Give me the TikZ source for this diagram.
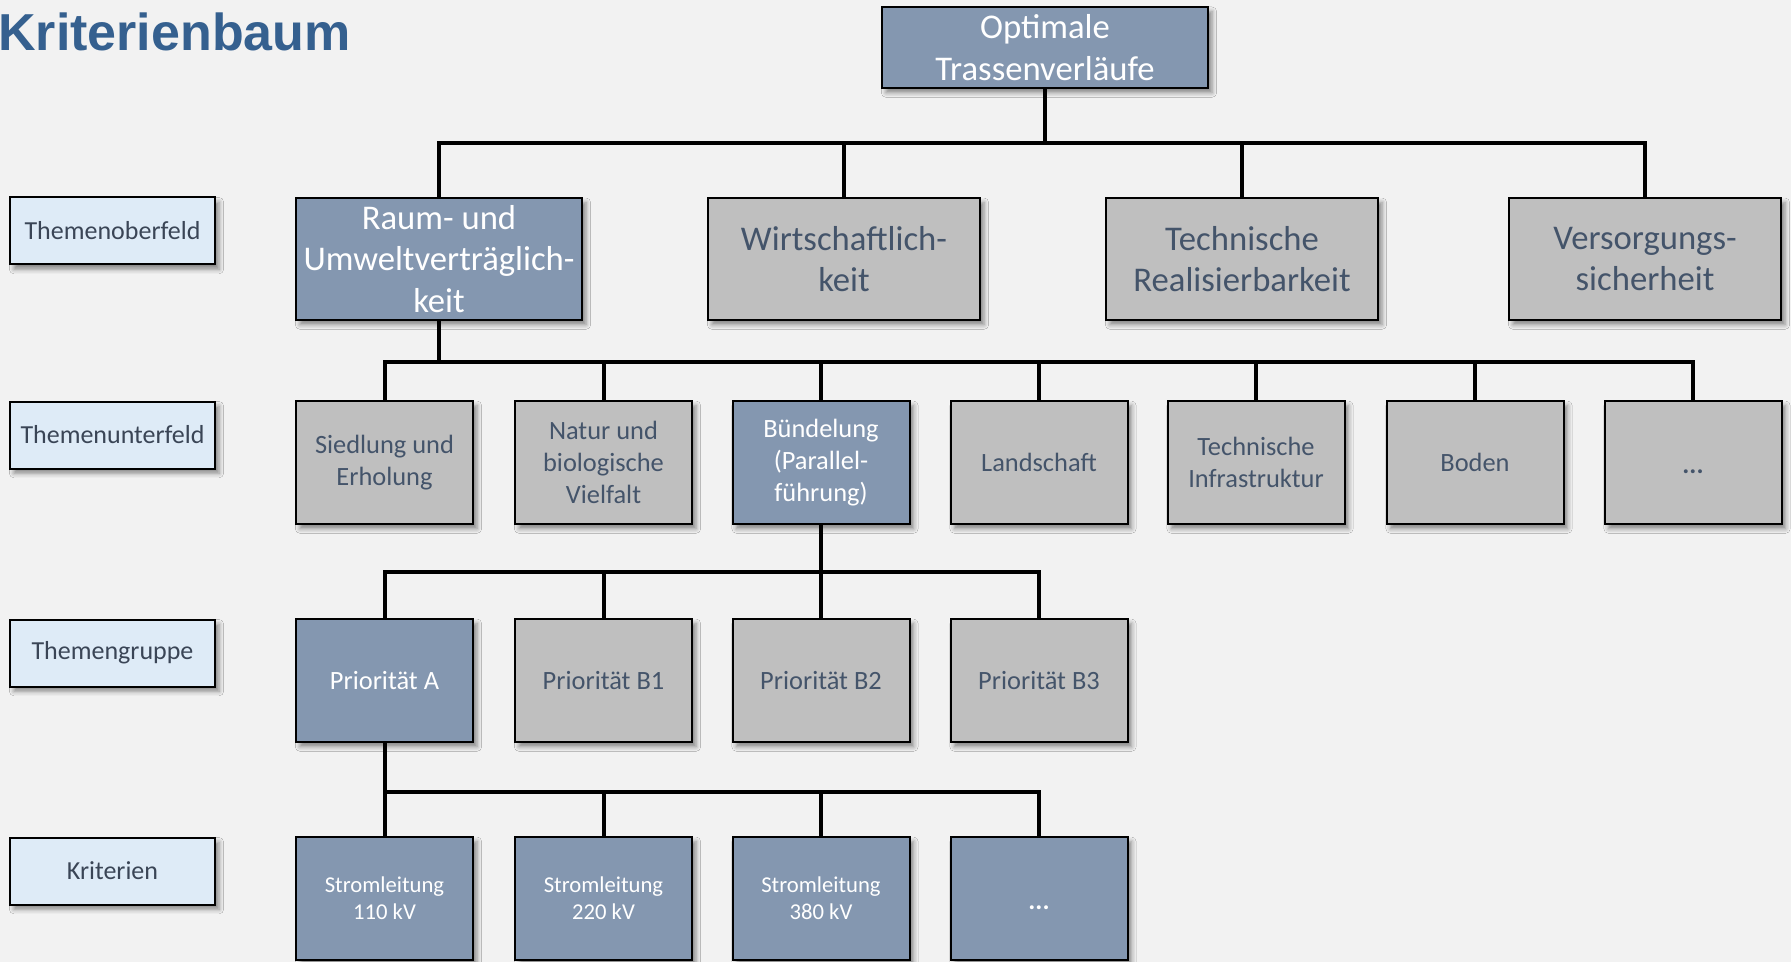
\documentclass[tikz,border=0pt]{standalone}
\usepackage{fontspec}
\setmainfont{Carlito}
\newfontfamily\titlefont{Liberation Sans}
\usetikzlibrary{shadows.blur}
\definecolor{bgc}{HTML}{F2F2F2}
\definecolor{bluefill}{HTML}{8497B0}
\definecolor{grayfill}{HTML}{BFBFBF}
\definecolor{labelfill}{HTML}{DEEBF7}
\definecolor{darktext}{HTML}{44546A}
\definecolor{labeltext}{HTML}{3A4556}
\definecolor{titleblue}{HTML}{35608F}
\newlength\pxu \setlength\pxu{0.75pt}
\newcommand\mydots{\raisebox{-8.5pt}[0pt][0pt]{\textbf{...}}}
\begin{document}
\begin{tikzpicture}[x=0.75pt,y=-0.75pt,
  box/.style={draw=black, line width=1.5pt, inner sep=0pt, align=center,
    blur shadow={shadow xshift=3pt, shadow yshift=-3.5pt, shadow blur radius=3.5pt, shadow opacity=45}},
  bluebox/.style={box, fill=bluefill, text=white},
  graybox/.style={box, fill=grayfill, text=darktext},
  big/.style={minimum width=272\pxu, minimum height=122\pxu, font=\fontsize{26}{31}\selectfont},
  mid/.style={minimum width=177\pxu, minimum height=123\pxu, font=\fontsize{19.8}{24}\selectfont},
  small/.style={minimum width=177\pxu, minimum height=123\pxu, font=\fontsize{17}{20.5}\selectfont},
  lbl/.style={box, fill=labelfill, text=labeltext, minimum width=205\pxu, minimum height=67\pxu, font=\fontsize{19.5}{24}\selectfont},
  conn/.style={draw=black, line width=3pt}]
\path[fill=bgc] (0,0) rectangle (1791,962);
\useasboundingbox (0,0) rectangle (1791,962);

\node[anchor=base west, inner sep=0pt, text=titleblue, font=\titlefont\bfseries\fontsize{39}{45}\selectfont] (title) at (-2,51) {Kriterienbaum};

% labels
\node[lbl] (l1) at (112.5,231) {Themenoberfeld};
\node[lbl] (l2) at (112.5,435) {Themenunterfeld};
\node[lbl] (l3) at (112.5,653) {Themengruppe};
\node[lbl] (l4) at (112.5,871) {Kriterien};

% top
\node[bluebox, minimum width=326\pxu, minimum height=81\pxu, font=\fontsize{26}{31}\selectfont] (top) at (1045,47.5) {Optimale\\Trassenverläufe};

% level 1
\node[bluebox, big, minimum width=286\pxu] (raum) at (439,259) {Raum- und\\Umweltverträglich-\\keit};
\node[graybox, big] (wirt) at (844,259) {Wirtschaftlich-\\keit};
\node[graybox, big] (tech) at (1242,259) {Technische\\Realisierbarkeit};
\node[graybox, big] (vers) at (1645,259) {Versorgungs-\\sicherheit};

% level 2
\node[graybox, mid] (sied) at (384.5,462.5) {Siedlung und\\Erholung};
\node[graybox, mid] (natur) at (603.5,462.5) {Natur und\\biologische\\Vielfalt};
\node[bluebox, mid] (buend) at (821,462.5) {Bündelung\\(Parallel-\\führung)};
\node[graybox, mid] (land) at (1039,462.5) {Landschaft};
\node[graybox, mid] (infra) at (1256,462.5) {Technische\\Infrastruktur};
\node[graybox, mid] (boden) at (1475,462.5) {Boden};
\node[graybox, mid] (more2) at (1693,462.5) {\mydots};

% level 3
\node[bluebox, mid] (pa) at (384.5,680.5) {Priorität A};
\node[graybox, mid] (pb1) at (603.5,680.5) {Priorität B1};
\node[graybox, mid] (pb2) at (821,680.5) {Priorität B2};
\node[graybox, mid] (pb3) at (1039,680.5) {Priorität B3};

% level 4
\node[bluebox, small] (s110) at (384.5,898.5) {Stromleitung\\110 kV};
\node[bluebox, small] (s220) at (603.5,898.5) {Stromleitung\\220 kV};
\node[bluebox, small] (s380) at (821,898.5) {Stromleitung\\380 kV};
\node[bluebox, mid] (more4) at (1039,898.5) {\mydots};

% buses
\coordinate (bus1) at (0,143);
\coordinate (bus2) at (0,362);
\coordinate (bus3) at (0,572);
\coordinate (bus4) at (0,792);

\foreach \c in {raum,wirt,tech,vers}
  \draw[conn] (top.south) -- (top.south |- bus1) -| (\c.north);
\foreach \c in {sied,natur,buend,land,infra,boden,more2}
  \draw[conn] (raum.south) -- (raum.south |- bus2) -| (\c.north);
\foreach \c in {pa,pb1,pb2,pb3}
  \draw[conn] (buend.south) -- (buend.south |- bus3) -| (\c.north);
\foreach \c in {s110,s220,s380,more4}
  \draw[conn] (pa.south) -- (pa.south |- bus4) -| (\c.north);
\end{tikzpicture}
\end{document}
